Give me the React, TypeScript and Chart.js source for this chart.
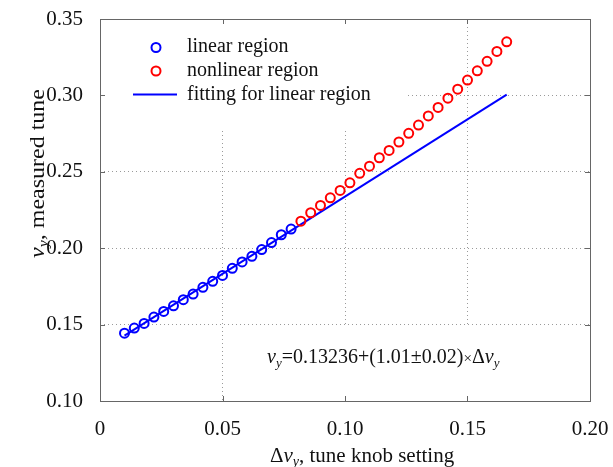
import React, { useEffect, useRef } from 'react';
import { Chart, registerables } from 'chart.js';

Chart.register(...registerables);

// ---- data ----
const linearX = [0.010, 0.014, 0.018, 0.022, 0.026, 0.030, 0.034, 0.038, 0.042, 0.046, 0.050, 0.054, 0.058, 0.062, 0.066, 0.070, 0.074, 0.078];
const linearY = [0.1444, 0.1477, 0.1508, 0.1549, 0.1586, 0.1623, 0.1663, 0.1700, 0.1744, 0.1783, 0.1822, 0.1868, 0.1910, 0.1947, 0.1991, 0.2037, 0.2088, 0.2125];
const nonlinearX = [0.082, 0.086, 0.090, 0.094, 0.098, 0.102, 0.106, 0.110, 0.114, 0.118, 0.122, 0.126, 0.130, 0.134, 0.138, 0.142, 0.146, 0.150, 0.154, 0.158, 0.162, 0.166];
const nonlinearY = [0.2177, 0.2232, 0.2280, 0.2330, 0.2378, 0.2428, 0.2490, 0.2537, 0.2592, 0.2640, 0.2695, 0.2752, 0.2806, 0.2866, 0.2921, 0.2982, 0.3041, 0.3100, 0.3161, 0.3223, 0.3288, 0.3351];
const fitX = [0.010, 0.166];
const fitY = [0.1428, 0.3005];
const xTickLabels = ['0', '0.05', '0.10', '0.15', '0.20'];
const yTickLabels = ['0.10', '0.15', '0.20', '0.25', '0.30', '0.35'];
const legendLabels = ['linear region', 'nonlinear region', 'fitting for linear region'];

const SERIF = '"Liberation Serif", "DejaVu Serif", serif';
const BLUE = '#0000ff';
const RED = '#ff0000';
const BOX = '#666666';
const TEXT = '#111111';

type Seg = { t: string; size: number; italic?: boolean; dy?: number };

function richWidth(ctx: CanvasRenderingContext2D, segs: Seg[]) {
  let w = 0;
  for (const s of segs) {
    ctx.font = `${s.italic ? 'italic ' : ''}${s.size}px ${SERIF}`;
    w += ctx.measureText(s.t).width;
  }
  return w;
}

function drawRich(ctx: CanvasRenderingContext2D, segs: Seg[], x: number, y: number) {
  let cx = x;
  for (const s of segs) {
    ctx.font = `${s.italic ? 'italic ' : ''}${s.size}px ${SERIF}`;
    ctx.fillText(s.t, cx, y + (s.dy || 0));
    cx += ctx.measureText(s.t).width;
  }
}

const noPad = (s: any) => {
  s.paddingTop = 0;
  s.paddingBottom = 0;
  s.paddingLeft = 0;
  s.paddingRight = 0;
};

const overlayPlugin = {
  id: 'matlabStyle',
  beforeDatasetsDraw(chart: any) {
    const { ctx, scales } = chart;
    const xs = scales.x, ys = scales.y;
    const y15 = ys.getPixelForValue(0.15);
    ctx.save();
    ctx.fillStyle = '#ffffff';
    // legend box background
    ctx.fillRect(xs.left + 1, ys.top + 1, 305, 110);
    // equation box background
    ctx.fillRect(255, y15 + 2, xs.right - 255 - 1, ys.bottom - y15 - 3);
    ctx.restore();
  },
  afterDraw(chart: any) {
    const { ctx, scales } = chart;
    const xs = scales.x, ys = scales.y;
    const L = xs.left, R = xs.right, T = ys.top, B = ys.bottom;
    ctx.save();
    // box
    ctx.strokeStyle = BOX;
    ctx.lineWidth = 1;
    ctx.strokeRect(Math.round(L) + 0.5, Math.round(T) + 0.5, Math.round(R - L), Math.round(B - T));
    // inward ticks
    const tl = 5;
    ctx.beginPath();
    xs.ticks.forEach((t: any) => {
      const px = Math.round(xs.getPixelForValue(t.value)) + 0.5;
      ctx.moveTo(px, B); ctx.lineTo(px, B - tl);
      ctx.moveTo(px, T); ctx.lineTo(px, T + tl);
    });
    ys.ticks.forEach((t: any) => {
      const py = Math.round(ys.getPixelForValue(t.value)) + 0.5;
      ctx.moveTo(L, py); ctx.lineTo(L + tl, py);
      ctx.moveTo(R, py); ctx.lineTo(R - tl, py);
    });
    ctx.stroke();

    // legend
    ctx.textAlign = 'left';
    ctx.textBaseline = 'alphabetic';
    ctx.fillStyle = TEXT;
    ctx.font = `20px ${SERIF}`;
    const rows = [52, 76, 99.5];
    ctx.lineWidth = 2;
    ctx.strokeStyle = BLUE;
    ctx.beginPath(); ctx.arc(156, 47.5, 4.5, 0, Math.PI * 2); ctx.stroke();
    ctx.strokeStyle = RED;
    ctx.beginPath(); ctx.arc(156, 71, 4.5, 0, Math.PI * 2); ctx.stroke();
    ctx.strokeStyle = BLUE;
    ctx.beginPath(); ctx.moveTo(133, 94.5); ctx.lineTo(177, 94.5); ctx.stroke();
    legendLabels.forEach((lab, i) => ctx.fillText(lab, 187, rows[i]));

    // equation
    drawRich(ctx, [
      { t: 'ν', size: 20, italic: true },
      { t: 'y', size: 13, italic: true, dy: 4 },
      { t: '=0.13236+(1.01±0.02)', size: 20 },
      { t: '×', size: 15 },
      { t: 'Δ', size: 20 },
      { t: 'ν', size: 20, italic: true },
      { t: 'y', size: 13, italic: true, dy: 4 },
    ], 267, 363);

    // x title
    drawRich(ctx, [
      { t: 'Δ', size: 21 },
      { t: 'ν', size: 21, italic: true },
      { t: 'y', size: 14, italic: true, dy: 4 },
      { t: ', tune knob setting', size: 21 },
    ], 270, 462);

    // y title (rotated)
    const ySegs: Seg[] = [
      { t: 'ν', size: 21, italic: true },
      { t: 'y', size: 14, italic: true, dy: 4 },
      { t: ', measured tune', size: 21 },
    ];
    const w = richWidth(ctx, ySegs);
    ctx.translate(44, 258);
    ctx.rotate(-Math.PI / 2);
    ctx.scale(169 / w, 1);
    drawRich(ctx, ySegs, 0, 0);
    ctx.restore();
  },
};

export default function App() {
  const ref = useRef<HTMLCanvasElement | null>(null);
  useEffect(() => {
    document.body.style.margin = '0';
    const canvas = ref.current!;
    const gridCommon = {
      color: '#9a9a9a',
      lineWidth: 1,
      drawTicks: false,
    };
    const chart = new Chart(canvas, {
      type: 'scatter',
      data: {
        datasets: [
          {
            label: legendLabels[2],
            type: 'line',
            data: fitX.map((x, i) => ({ x, y: fitY[i] })),
            borderColor: BLUE,
            borderWidth: 2,
            pointRadius: 0,
            fill: false,
            order: 3,
          } as any,
          {
            label: legendLabels[0],
            data: linearX.map((x, i) => ({ x, y: linearY[i] })),
            borderColor: BLUE,
            backgroundColor: 'rgba(0,0,0,0)',
            pointRadius: 4.5,
            pointBorderWidth: 2,
            order: 1,
          },
          {
            label: legendLabels[1],
            data: nonlinearX.map((x, i) => ({ x, y: nonlinearY[i] })),
            borderColor: RED,
            backgroundColor: 'rgba(0,0,0,0)',
            pointRadius: 4.5,
            pointBorderWidth: 2,
            order: 2,
          },
        ],
      },
      options: {
        responsive: false,
        animation: false,
        events: [],
        layout: { padding: { left: 0, top: 19, right: 23, bottom: 0 } },
        plugins: { legend: { display: false }, tooltip: { enabled: false } },
        scales: {
          x: {
            type: 'linear',
            min: 0,
            max: 0.2,
            afterFit: (s: any) => { s.height = 66; noPad(s); },
            ticks: {
              stepSize: 0.05,
              padding: 16,
              color: TEXT,
              font: { family: SERIF, size: 21 },
              callback: (_v: any, i: number) => xTickLabels[i],
              maxRotation: 0,
            },
            grid: gridCommon,
            border: { display: false, dash: [1, 3] },
          },
          y: {
            type: 'linear',
            min: 0.1,
            max: 0.35,
            afterFit: (s: any) => { s.width = 100; noPad(s); },
            ticks: {
              stepSize: 0.05,
              padding: 17,
              color: TEXT,
              font: { family: SERIF, size: 21 },
              callback: (_v: any, i: number) => yTickLabels[i],
            },
            grid: gridCommon,
            border: { display: false, dash: [1, 3] },
          },
        },
      },
      plugins: [overlayPlugin],
    } as any);
    return () => chart.destroy();
  }, []);
  return <canvas ref={ref} width={613} height={467} style={{ display: 'block' }} />;
}
